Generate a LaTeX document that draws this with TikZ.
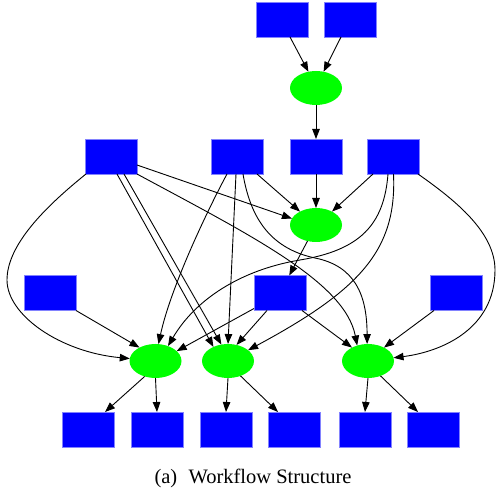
\documentclass[tikz,border=0pt]{standalone}
\usepackage{fontspec}
\setmainfont{Liberation Serif}
\usetikzlibrary{shapes.geometric,arrows.meta}
\definecolor{boxedge}{RGB}{130,130,255}
\begin{document}
\begin{tikzpicture}[x=1pt,y=-1pt,
  box/.style={rectangle, fill=blue, draw=boxedge, line width=0.5pt, minimum width=52pt, minimum height=35pt, inner sep=0pt, outer sep=0pt},
  job/.style={ellipse, fill=green, draw=none, minimum width=52pt, minimum height=34pt, inner sep=0pt, outer sep=0pt},
  flow/.style={draw=black, line width=0.9pt, -{Triangle[length=10pt,width=7.5pt]}}]
\useasboundingbox (0,0) rectangle (496,489);
% nodes
\node[box] (T1) at (282,19.5) {};
\node[box] (T2) at (350,19.5) {};
\node[job] (E0) at (316,88) {};
\node[box] (B1) at (111,156.5) {};
\node[box] (B2) at (237,156.5) {};
\node[box] (B3) at (316,156.5) {};
\node[box] (B4) at (393.5,156.5) {};
\node[job] (E1) at (316,225) {};
\node[box] (L) at (50,293) {};
\node[box] (M) at (280,293) {};
\node[box] (R) at (456,293) {};
\node[job] (E2) at (155.5,361) {};
\node[job] (E3) at (228,361) {};
\node[job] (E4) at (368,361) {};
\node[box] (O1) at (88,429.5) {};
\node[box] (O2) at (157,429.5) {};
\node[box] (O3) at (226,429.5) {};
\node[box] (O4) at (294,429.5) {};
\node[box] (O5) at (365,429.5) {};
\node[box] (O6) at (433.5,429.5) {};
\node[font=\fontsize{20.5}{24}\selectfont, anchor=base, inner sep=0pt] (cap) at (253,483) {(a)\hspace{0.55em}Workflow Structure};
% edges
\draw[flow] ([xshift=8pt]T1.south) -- (E0.115);
\draw[flow] ([xshift=-9pt]T2.south) -- (E0.65);
\draw[flow] (E0) -- (B3);
\draw[flow] (B3) -- (E1);
\draw[flow] ([yshift=-8.5pt]B1.east) -- (E1.165);
\draw[flow] ([xshift=20pt]B2.south) -- (E1.140);
\draw[flow] ([xshift=-20.5pt]B4.south) -- (E1.40);
\draw[flow] (E1) -- (M);
\draw[flow] ([xshift=1pt]B1.south west) .. controls (45,207) and (7,245) .. (7,280) .. controls (7,315) and (60,352) .. (E2);
\draw[flow] ([xshift=6pt]B1.south) -- (E3.136);
\draw[flow] ([xshift=13pt]B1.south) -- (E3.112);
\draw[flow] (B1.south east) .. controls (250,235) and (345,282) .. (E4.125);
\draw[flow] ([xshift=-10pt]B2.south) .. controls (205,215) and (170,290) .. (E2.80);
\draw[flow] ([xshift=-1pt]B2.south) -- (E3.north);
\draw[flow] ([xshift=6pt]B2.south) .. controls (250,215) and (268,248) .. (315,258) .. controls (355,266) and (367,295) .. (E4.93);
\draw[flow] ([xshift=-5.5pt]B4.south) .. controls (384,225) and (360,250) .. (300,260) .. controls (240,270) and (195,300) .. (E2.50);
\draw[flow] (B4.south) .. controls (397,250) and (360,290) .. (E3);
\draw[flow] ([xshift=-1.5pt]B4.south east) .. controls (455,200) and (495,232) .. (495,270) .. controls (495,330) and (440,352) .. (E4);
\draw[flow] (L.south east) -- (E2.140);
\draw[flow] ([yshift=2pt]M.south west) -- (E2.25);
\draw[flow] ([xshift=-13pt]M.south) -- (E3.62);
\draw[flow] ([xshift=22pt]M.south) -- (E4.140);
\draw[flow] ([xshift=4pt]R.south west) -- (E4.40);
\draw[flow] (E2.235) -- ([xshift=17pt]O1.north);
\draw[flow] (E2.south) -- (O2.north);
\draw[flow] (E3.south) -- (O3.north);
\draw[flow] (E3.-50) -- ([xshift=-16pt]O4.north);
\draw[flow] (E4.south) -- (O5.north);
\draw[flow] (E4.-50) -- ([xshift=-15.5pt]O6.north);
\end{tikzpicture}
\end{document}
